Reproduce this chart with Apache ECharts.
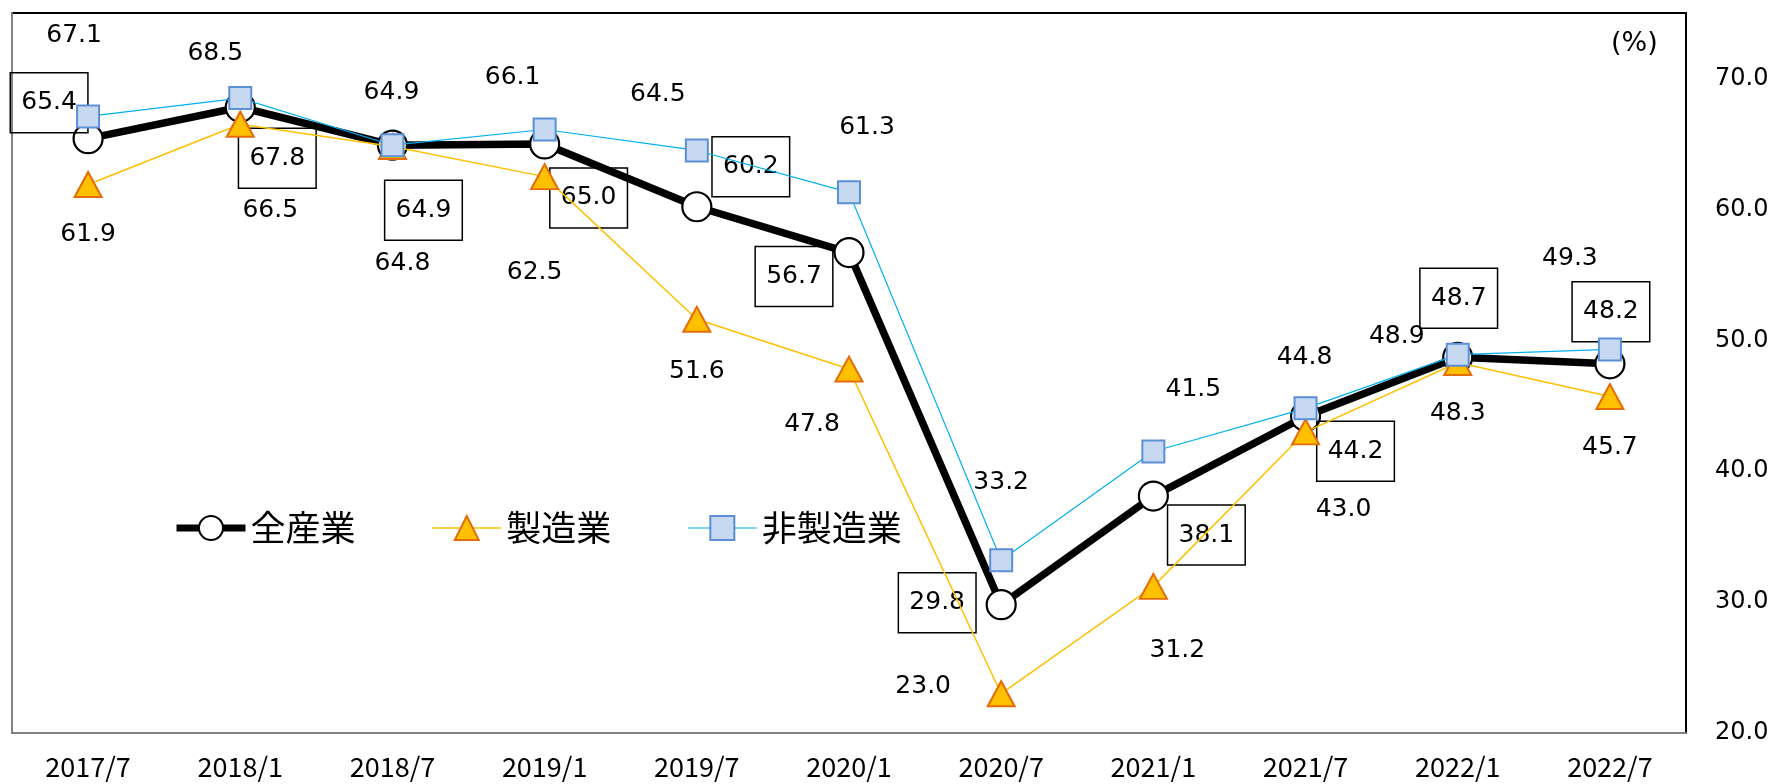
<!DOCTYPE html>
<html>
<head>
<meta charset="utf-8">
<script src="https://cdn.jsdelivr.net/npm/echarts@6/dist/echarts.min.js"></script>
<style>
html,body{margin:0;padding:0;background:#fff;}
#chart{width:1773px;height:784px;}
</style>
</head>
<body>
<div id="chart"></div>
<script>
// ---- data ----
const categories = ['2017/7','2018/1','2018/7','2019/1','2019/7','2020/1','2020/7','2021/1','2021/7','2022/1','2022/7'];
const seriesNames = ['全産業','製造業','非製造業'];
const allIndustries = [65.4, 67.8, 64.9, 65.0, 60.2, 56.7, 29.8, 38.1, 44.2, 48.7, 48.2];
const manufacturing = [61.9, 66.5, 64.8, 62.5, 51.6, 47.8, 23.0, 31.2, 43.0, 48.3, 45.7];
const nonManufacturing = [67.1, 68.5, 64.9, 66.1, 64.5, 61.3, 33.2, 41.5, 44.8, 48.9, 49.3];
const yTicks = [20, 30, 40, 50, 60, 70];
const unitLabel = '(%)';

// ---- label placement (pixel offsets from each point) ----
const allOffsets = [[-39,-36],[37,51],[31,65],[44,54],[54,-40],[-55,24],[-64,-2],[53,39],[50,35],[1,-59],[1,-52]];
const mfgOffsets = [[0,50],[30,86],[10,117],[-10,96],[0,52],[-37,55],[-78,-7],[24,64],[38,78],[0,51],[0,51]];
const nonOffsets = [[-14,-81],[-25,-45],[-1,-53],[-32,-52],[-39,-56],[18,-65],[0,-78],[40,-62],[-1,-51],[-61,-18],[-40,-91]];

const numFont = 'DejaVu Sans';
const jpFont = 'Noto Sans CJK JP';

function build(values, offsets){
  return values.map((v,i)=>({value:v, label:{offset:offsets[i]}}));
}

const chart = echarts.init(document.getElementById('chart'), null, {renderer:'canvas'});
const option = {
  backgroundColor:'#fff',
  animation:false,
  grid:{left:12, right:87, top:13, bottom:51, show:true, borderColor:'#000', borderWidth:2, backgroundColor:'transparent'},
  legend:{
    data:[
      {name:seriesNames[0], lineStyle:{width:7}},
      {name:seriesNames[1], lineStyle:{width:1.5}},
      {name:seriesNames[2], lineStyle:{width:1.2}}
    ],
    left:168, top:503,
    itemWidth:69, itemHeight:30, itemGap:76,
    textStyle:{fontFamily:jpFont, fontSize:35, color:'#000', lineHeight:40}
  },
  graphic:[{
    type:'text', left:1611, top:30,
    style:{text:unitLabel, font:'27px "DejaVu Sans"', fill:'#000'}
  }],
  xAxis:{
    type:'category', data:categories, boundaryGap:true,
    axisLine:{show:true, lineStyle:{color:'#808080', width:2}},
    axisTick:{show:false},
    axisLabel:{color:'#000', fontFamily:jpFont, fontSize:27, margin:20}
  },
  yAxis:[{
    type:'value', position:'right', min:20, max:75, interval:10,
    axisLine:{show:false}, axisTick:{show:false}, splitLine:{show:false},
    axisLabel:{color:'#000', fontFamily:numFont, fontSize:24, margin:29,
      formatter:v=> yTicks.indexOf(v) >= 0 ? v.toFixed(1) : ''}
  },{
    type:'value', position:'left', min:20, max:75, interval:10,
    axisLine:{show:true, lineStyle:{color:'#808080', width:2}},
    axisTick:{show:false}, splitLine:{show:false}, axisLabel:{show:false}
  }],
  series:[{
    name:seriesNames[0], type:'line', data:build(allIndustries, allOffsets),
    symbol:'circle', symbolSize:29,
    lineStyle:{color:'#000', width:7.5},
    itemStyle:{color:'#fff', borderColor:'#000', borderWidth:2.2},
    label:{show:true, position:'inside', color:'#000', fontFamily:numFont, fontSize:25, lineHeight:30,
      borderColor:'#000', borderWidth:1.5, padding:[15,11], formatter:p=>p.value.toFixed(1)},
    z:2
  },{
    name:seriesNames[1], type:'line', data:build(manufacturing, mfgOffsets),
    symbol:'triangle', symbolSize:[27,25],
    lineStyle:{color:'#FFC000', width:1.5},
    itemStyle:{color:'#FFC000', borderColor:'#E46C0A', borderWidth:2},
    label:{show:true, position:'inside', color:'#000', fontFamily:numFont, fontSize:25, formatter:p=>p.value.toFixed(1)},
    z:3
  },{
    name:seriesNames[2], type:'line', data:build(nonManufacturing, nonOffsets),
    symbol:'rect', symbolSize:22,
    lineStyle:{color:'#00B0F0', width:1.2},
    itemStyle:{color:'#C6D9F1', borderColor:'#5B8FD6', borderWidth:2},
    label:{show:true, position:'inside', color:'#000', fontFamily:numFont, fontSize:25, formatter:p=>p.value.toFixed(1)},
    z:4
  }]
};
chart.setOption(option);
</script>
</body>
</html>
